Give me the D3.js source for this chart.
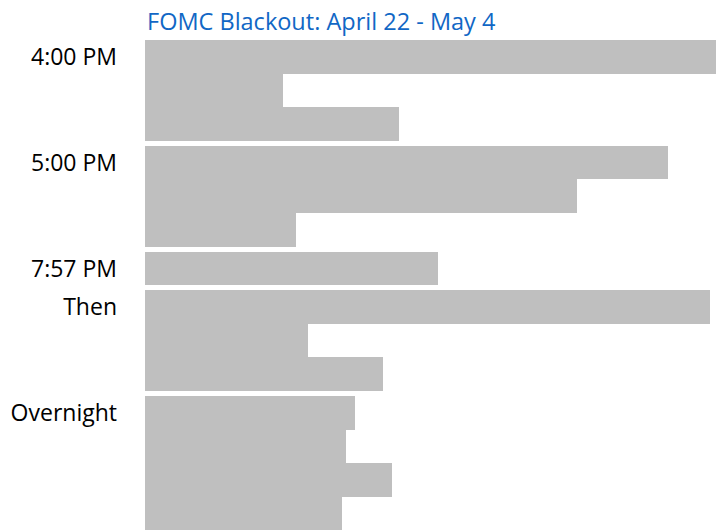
<!DOCTYPE html>
<html>
<head>
<meta charset="utf-8">
<script src="https://cdn.jsdelivr.net/npm/d3@7"></script>
<style>
  html, body { margin: 0; padding: 0; background: #fff; }
  svg { display: block; }
  text { font-family: "Open Sans", sans-serif; }
</style>
</head>
<body>
<div id="chart"></div>
<script>
// chart data
var title = "FOMC Blackout: April 22 - May 4";
var groupLabels = ["4:00 PM", "5:00 PM", "7:57 PM", "Then", "Overnight"];
var groupSizes = [3, 3, 1, 3, 4];
var barValues = [100, 24.2, 44.5, 91.6, 75.7, 26.4, 51.3, 98.9, 28.5, 41.7, 36.8, 35.2, 43.3, 34.5];

(function() {
  var width = 716, height = 531;
  var top = 40, barStep = 33.6, groupGap = 5;

  var svg = d3.select('#chart').append('svg')
    .attr('width', width)
    .attr('height', height);

  var x = d3.scaleLinear().domain([0, 100]).range([145, 716]);

  // which group each bar belongs to
  var rows = [], i = 0;
  groupSizes.forEach(function(n, g) {
    for (var k = 0; k < n; k++) {
      rows.push({ index: i, group: g, first: k === 0, value: barValues[i] });
      i++;
    }
  });

  var y = d3.scaleLinear().domain([0, rows.length]).range([top, top + rows.length * barStep]);
  var yTop = function(d) { return Math.round(y(d.index) + d.group * groupGap); };
  var yBottom = function(d) { return Math.round(y(d.index + 1) + d.group * groupGap); };

  svg.append('text')
    .attr('x', 147)
    .attr('y', 30)
    .attr('fill', '#1167c5')
    .attr('font-size', 23.5)
    .text(title);

  svg.selectAll('rect.bar').data(rows).enter().append('rect')
    .attr('class', 'bar')
    .attr('x', x(0))
    .attr('y', yTop)
    .attr('width', function(d) { return Math.round(x(d.value) - x(0)); })
    .attr('height', function(d) { return yBottom(d) - yTop(d); })
    .attr('fill', '#bfbfbf')
    .attr('shape-rendering', 'crispEdges');

  svg.selectAll('text.label').data(rows.filter(function(d) { return d.first; })).enter().append('text')
    .attr('class', 'label')
    .attr('x', 117)
    .attr('y', function(d) { return (yTop(d) + yBottom(d)) / 2; })
    .attr('dy', '0.35em')
    .attr('text-anchor', 'end')
    .attr('font-size', 23)
    .attr('fill', '#000')
    .text(function(d) { return groupLabels[d.group]; });
})();
</script>
</body>
</html>
